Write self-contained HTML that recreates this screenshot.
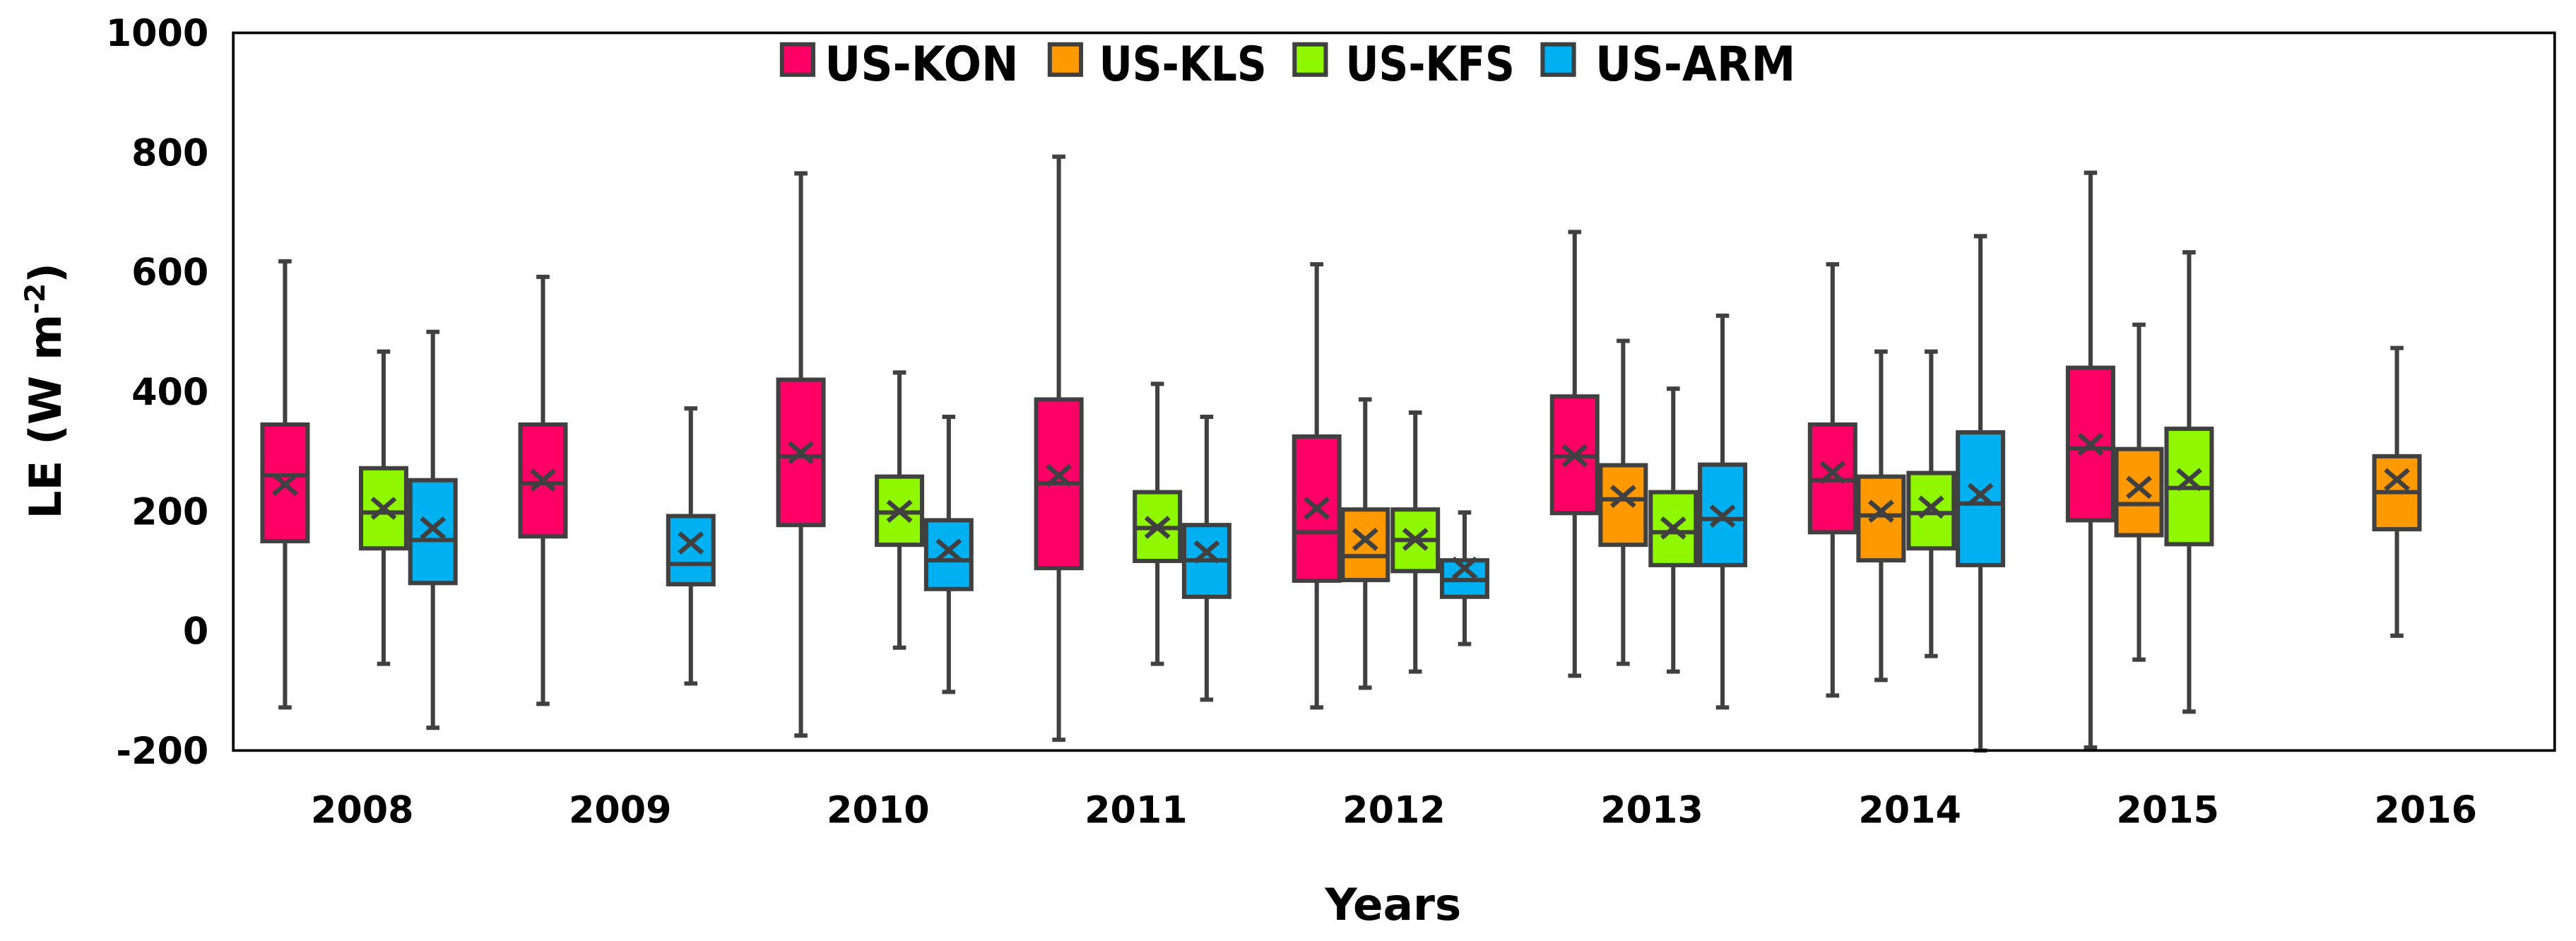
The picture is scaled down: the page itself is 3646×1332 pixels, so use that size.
<!DOCTYPE html>
<html><head><meta charset="utf-8"><style>
html,body{margin:0;padding:0;background:#fff;}
svg{display:block;}
text{font-family:"DejaVu Sans","Liberation Sans",sans-serif;font-weight:bold;fill:#000;}
</style></head><body>
<svg id="chart" width="3646" height="1332" viewBox="0 0 1568 573" preserveAspectRatio="none" xmlns="http://www.w3.org/2000/svg">
<rect x="0" y="0" width="1568" height="573" fill="#fff"/>
<g id="plot"></g>
<rect x="142" y="20" width="1413" height="437" fill="none" stroke="#000" stroke-width="1.6"/>
<g id="yticks"></g><g id="xticks"></g>
<text transform="translate(37,238) rotate(-90)" text-anchor="middle" font-size="27">LE (W m<tspan dy="-10" font-size="17">-2</tspan><tspan dy="10">)</tspan></text>
<text x="848" y="560" text-anchor="middle" font-size="27">Years</text>
<g id="legend"></g>
</svg>
<script>
const years = ["2008","2009","2010","2011","2012","2013","2014","2015","2016"];
const sites = ["US-KON","US-KLS","US-KFS","US-ARM"];
const colors = ["#FF0066","#FF9900","#8FF800","#00B0F0"];
const yTicks = [1000,800,600,400,200,0,-200];
// each entry: [yearIndex, siteIndex, min, q1, median, q3, max, mean]
const boxStats = [
 [0,0,-128,150,260,345,618,245],
 [0,2,-55,138,198,272,467,205],
 [0,3,-162,80,152,252,500,172],
 [1,0,-122,158,247,345,592,252],
 [1,3,-88,78,112,192,372,147],
 [2,0,-175,177,292,420,765,298],
 [2,2,-28,144,198,258,432,200],
 [2,3,-102,70,118,185,358,135],
 [3,0,-182,105,247,387,793,260],
 [3,2,-55,117,172,232,413,173],
 [3,3,-115,57,118,177,358,132],
 [4,0,-128,84,165,325,613,205],
 [4,1,-95,85,125,203,387,153],
 [4,2,-68,100,152,203,365,153],
 [4,3,-22,57,85,118,198,105],
 [5,0,-75,197,292,392,667,293],
 [5,1,-55,144,220,277,485,225],
 [5,2,-68,110,165,232,405,172],
 [5,3,-128,110,187,278,527,192],
 [6,0,-108,165,252,345,613,265],
 [6,1,-82,118,193,258,467,200],
 [6,2,-42,138,197,264,467,207],
 [6,3,-200,110,213,332,660,228],
 [7,0,-195,185,305,440,766,312],
 [7,1,-48,160,212,304,512,240],
 [7,2,-135,145,239,338,633,253],
 [8,1,-8,170,232,292,473,253]
];
const NS="http://www.w3.org/2000/svg";
const L=142,T=20,W=1413,H=437,ymin=-200,ymax=1000;
const catW=W/years.length;
const slotOff=[-47,-17.5,13,43];
const bw=27.5;
function yS(v){return T+(ymax-v)/(ymax-ymin)*H;}
function xC(i){return L+catW*(i+0.5);}
function mk(tag,attrs,parent){const e=document.createElementNS(NS,tag);for(const k in attrs)e.setAttribute(k,attrs[k]);parent.appendChild(e);return e;}
const plot=document.getElementById('plot');
const sc="#404040",sw=2.6;
boxStats.forEach(d=>{
  const [yi,si,mn,q1,md,q3,mx,mean]=d;
  const cx=xC(yi)+slotOff[si];
  const g=mk('g',{},plot);
  
  
  mk('line',{x1:cx,x2:cx,y1:yS(mx),y2:yS(q3),stroke:sc,'stroke-width':sw},g);
  mk('line',{x1:cx,x2:cx,y1:yS(q1),y2:yS(mn),stroke:sc,'stroke-width':sw},g);
  mk('line',{x1:cx-4,x2:cx+4,y1:yS(mx),y2:yS(mx),stroke:sc,'stroke-width':sw},g);
  mk('line',{x1:cx-4,x2:cx+4,y1:yS(mn),y2:yS(mn),stroke:sc,'stroke-width':sw},g);
  mk('rect',{x:cx-bw/2,y:yS(q3),width:bw,height:yS(q1)-yS(q3),fill:colors[si],stroke:sc,'stroke-width':sw},g);
  mk('line',{x1:cx-bw/2,x2:cx+bw/2,y1:yS(md),y2:yS(md),stroke:sc,'stroke-width':sw},g);
  const my=yS(mean);
  mk('path',{d:`M${cx-7} ${my-6}L${cx+7} ${my+6}M${cx+7} ${my-6}L${cx-7} ${my+6}`,stroke:sc,'stroke-width':2.8,fill:'none'},g);
});
const yt=document.getElementById('yticks');
yTicks.forEach(v=>{
  const t=mk('text',{x:127,y:yS(v)+8,'text-anchor':'end','font-size':22.5},yt);
  
  
  t.textContent=v;
});
const xt=document.getElementById('xticks');
years.forEach((y,i)=>{
  const t=mk('text',{x:xC(i),y:501,'text-anchor':'middle','font-size':22.5},xt);
  
  
  t.textContent=y;
});
const lg=document.getElementById('legend');
const legX=[476,639,788,939];
const legTX=[502,669,819,971];
const legTW=[118,102,103,122];
sites.forEach((s,i)=>{
  const g=mk('g',{},lg);
  
  
  mk('rect',{x:legX[i],y:27,width:19,height:18.5,fill:colors[i],stroke:sc,'stroke-width':2.6},g);
  const t=mk('text',{x:legTX[i],y:49,'font-size':29,textLength:legTW[i],lengthAdjust:'spacingAndGlyphs'},g);
  t.textContent=s;
});
</script>
</body></html>
